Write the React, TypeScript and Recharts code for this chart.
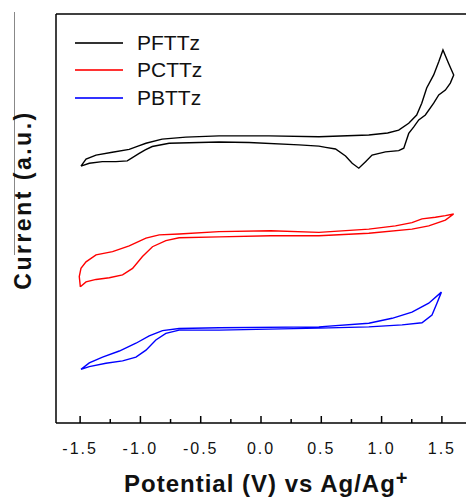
import React from 'react';
import { LineChart, Line, XAxis, YAxis, ReferenceLine } from 'recharts';

// potential (V vs Ag/Ag+) and current (a.u.), traced around each closed CV loop
const pfttz = [
  { x: -1.493, y: 62.8 }, { x: -1.451, y: 64.5 }, { x: -1.368, y: 65.5 }, { x: -1.233, y: 66.2 },
  { x: -1.093, y: 66.9 }, { x: -1.02, y: 67.7 }, { x: -0.954, y: 68.4 }, { x: -0.82, y: 69.4 },
  { x: -0.623, y: 69.9 }, { x: -0.348, y: 70.2 }, { x: 0.066, y: 70.2 }, { x: 0.48, y: 70.0 },
  { x: 0.894, y: 70.4 }, { x: 1.05, y: 70.9 }, { x: 1.142, y: 71.6 }, { x: 1.225, y: 73.3 },
  { x: 1.291, y: 75.3 }, { x: 1.333, y: 78.2 }, { x: 1.374, y: 81.9 }, { x: 1.432, y: 85.1 },
  { x: 1.474, y: 88.3 }, { x: 1.509, y: 91.2 }, { x: 1.556, y: 87.9 }, { x: 1.598, y: 85.1 },
  { x: 1.57, y: 83.1 }, { x: 1.529, y: 81.4 }, { x: 1.474, y: 80.2 }, { x: 1.432, y: 78.2 },
  { x: 1.363, y: 75.3 }, { x: 1.308, y: 74.1 }, { x: 1.267, y: 72.4 }, { x: 1.225, y: 70.8 },
  { x: 1.184, y: 67.2 }, { x: 1.142, y: 66.6 }, { x: 1.032, y: 66.3 }, { x: 0.921, y: 65.5 },
  { x: 0.867, y: 63.9 }, { x: 0.811, y: 62.3 }, { x: 0.756, y: 63.5 }, { x: 0.701, y: 65.3 },
  { x: 0.618, y: 67.0 }, { x: 0.536, y: 67.4 }, { x: 0.48, y: 67.7 }, { x: 0.315, y: 68.0 },
  { x: -0.099, y: 68.6 }, { x: -0.348, y: 68.7 }, { x: -0.762, y: 68.4 }, { x: -0.902, y: 67.6 },
  { x: -0.96, y: 66.8 }, { x: -1.01, y: 65.9 }, { x: -1.109, y: 64.1 }, { x: -1.203, y: 63.9 },
  { x: -1.316, y: 63.9 }, { x: -1.424, y: 63.5 }, { x: -1.493, y: 62.8 },
];

const pcttz = [
  { x: -1.498, y: 33.3 }, { x: -1.507, y: 35.8 }, { x: -1.493, y: 37.8 }, { x: -1.451, y: 39.4 },
  { x: -1.368, y: 41.1 }, { x: -1.231, y: 41.9 }, { x: -1.093, y: 43.3 }, { x: -0.954, y: 45.2 },
  { x: -0.844, y: 46.0 }, { x: -0.679, y: 46.2 }, { x: -0.348, y: 46.8 }, { x: 0.08, y: 47.0 },
  { x: 0.48, y: 46.6 }, { x: 0.894, y: 47.4 }, { x: 1.115, y: 48.2 }, { x: 1.252, y: 49.0 },
  { x: 1.335, y: 49.9 }, { x: 1.446, y: 50.3 }, { x: 1.529, y: 50.7 }, { x: 1.598, y: 51.1 },
  { x: 1.529, y: 49.6 }, { x: 1.391, y: 48.2 }, { x: 1.252, y: 47.4 }, { x: 0.894, y: 46.4 },
  { x: 0.48, y: 45.8 }, { x: 0.08, y: 45.8 }, { x: -0.348, y: 45.5 }, { x: -0.679, y: 45.3 },
  { x: -0.789, y: 44.6 }, { x: -0.9, y: 43.1 }, { x: -0.983, y: 40.7 }, { x: -1.065, y: 37.8 },
  { x: -1.148, y: 36.2 }, { x: -1.258, y: 35.5 }, { x: -1.368, y: 35.1 }, { x: -1.451, y: 34.5 },
  { x: -1.498, y: 33.3 },
];

const pbttz = [
  { x: -1.493, y: 13.1 }, { x: -1.424, y: 14.7 }, { x: -1.314, y: 16.1 }, { x: -1.175, y: 17.6 },
  { x: -1.037, y: 19.5 }, { x: -0.927, y: 21.3 }, { x: -0.817, y: 22.6 }, { x: -0.679, y: 23.1 },
  { x: -0.348, y: 23.3 }, { x: 0.48, y: 23.5 }, { x: 0.894, y: 24.4 }, { x: 1.087, y: 25.6 },
  { x: 1.252, y: 27.1 }, { x: 1.391, y: 29.3 }, { x: 1.496, y: 32.0 }, { x: 1.459, y: 29.3 },
  { x: 1.418, y: 26.4 }, { x: 1.335, y: 24.5 }, { x: 1.17, y: 24.0 }, { x: 0.894, y: 23.5 },
  { x: 0.48, y: 23.2 }, { x: -0.348, y: 22.7 }, { x: -0.679, y: 22.7 }, { x: -0.789, y: 21.9 },
  { x: -0.872, y: 20.3 }, { x: -0.954, y: 17.8 }, { x: -1.037, y: 16.1 }, { x: -1.148, y: 15.2 },
  { x: -1.286, y: 14.6 }, { x: -1.424, y: 13.8 }, { x: -1.493, y: 13.1 },
];

const series = [
  { name: 'PFTTz', data: pfttz, color: '#000000' },
  { name: 'PCTTz', data: pcttz, color: '#ff0000' },
  { name: 'PBTTz', data: pbttz, color: '#0000ff' },
];

const xTicks = [-1.5, -1.25, -1.0, -0.75, -0.5, -0.25, 0, 0.25, 0.5, 0.75, 1.0, 1.25, 1.5];

const FONT = 'Arial, "Liberation Sans", sans-serif';

const renderTick = (props: any) => {
  const { x, y, payload } = props;
  const v = payload.value as number;
  const major = Math.abs(v * 2 - Math.round(v * 2)) < 1e-6;
  return (
    <g>
      <line x1={x} x2={x} y1={y} y2={y - (major ? 7 : 4)} stroke="#000" strokeWidth={1.5} />
      {major && (
        <text x={x} y={y + 31} textAnchor="middle" fontSize={16} letterSpacing={2} fill="#111" fontFamily={FONT}>
          {v.toFixed(1)}
        </text>
      )}
    </g>
  );
};

export default function App() {
  return (
    <div style={{ position: 'absolute', left: 0, top: 0, width: 466, height: 497, background: '#fff', overflow: 'hidden' }}>
      <LineChart width={466} height={497} margin={{ top: 14, right: 0, left: 56, bottom: 44 }}>
        <XAxis
          dataKey="x"
          type="number"
          domain={[-1.7, 1.7]}
          ticks={xTicks}
          allowDataOverflow
          height={30}
          tickSize={0}
          tickMargin={0}
          tickLine={false}
          tick={renderTick}
          axisLine={{ stroke: '#000', strokeWidth: 1.5 }}
          interval={0}
        />
        <YAxis dataKey="y" type="number" domain={[0, 100]} allowDataOverflow hide />
        <ReferenceLine y={100} stroke="#000" strokeWidth={1.5} />
        <ReferenceLine x={-1.7} stroke="#000" strokeWidth={1.5} />
        {series.map((s) => (
          <Line
            key={s.name}
            data={s.data}
            dataKey="y"
            name={s.name}
            stroke={s.color}
            strokeWidth={1.4}
            dot={false}
            type="linear"
            isAnimationActive={false}
          />
        ))}
      </LineChart>
      <div style={{ position: 'absolute', left: 75, top: 29, fontFamily: FONT }}>
        {series.map((s) => (
          <div key={s.name} style={{ display: 'flex', alignItems: 'center', height: 27.5 }}>
            <div style={{ width: 48, height: 2, background: s.color, marginRight: 14, opacity: 0.8 }} />
            <span style={{ fontSize: 21, color: '#111' }}>{s.name}</span>
          </div>
        ))}
      </div>
      <div style={{ position: 'absolute', left: 14, top: 12, width: 1, height: 243, background: '#888' }} />
      <div
        style={{
          position: 'absolute', left: 23, top: 200, transform: 'translate(-50%, -50%) rotate(-90deg)',
          whiteSpace: 'nowrap', fontFamily: FONT, fontWeight: 'bold', fontSize: 23, letterSpacing: 2.5, color: '#111',
        }}
      >
        Current (a.u.)
      </div>
      <div
        style={{
          position: 'absolute', left: 124, top: 469, whiteSpace: 'nowrap', fontFamily: FONT,
          fontWeight: 'bold', fontSize: 24, letterSpacing: 1, color: '#111', lineHeight: '30px',
        }}
      >
        Potential (V) vs Ag/Ag<sup style={{ fontSize: 20, verticalAlign: 'top', position: 'relative', top: -6 }}>+</sup>
      </div>
    </div>
  );
}
